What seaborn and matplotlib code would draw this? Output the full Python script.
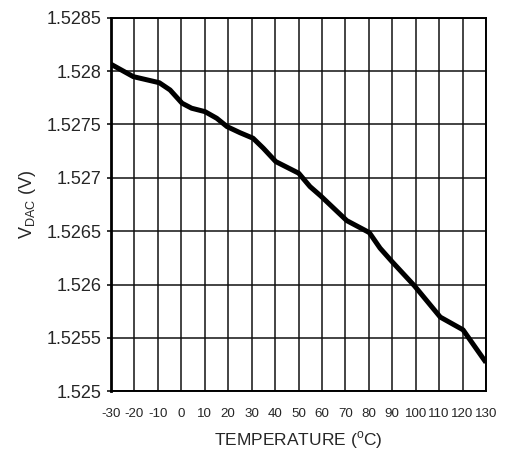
import numpy as np
import pandas as pd
import matplotlib
matplotlib.use("Agg")
import matplotlib.pyplot as plt
import seaborn as sns

# DAC output voltage versus temperature
temperature_c = [-30, -20.5, -9.4, -4.8, 0.3, 4.4, 10.1, 15.1, 19.5, 25, 30.6, 35,
                 40.3, 50.1, 54.9, 59.5, 70.6, 80.2, 84.8, 89.9, 99.4, 110.5,
                 120.2, 123.2, 130]
vdac_v = [1.528064, 1.527948, 1.527891, 1.527823, 1.527699, 1.527652, 1.52762,
          1.527558, 1.52748, 1.527423, 1.527371, 1.527277, 1.527152, 1.527043,
          1.526918, 1.52683, 1.526599, 1.526487, 1.526341, 1.526215, 1.52599,
          1.525695, 1.525576, 1.525482, 1.52527]

x_ticks = list(range(-30, 131, 10))
y_ticks = [1.525, 1.5255, 1.526, 1.5265, 1.527, 1.5275, 1.528, 1.5285]
y_tick_labels = ["1.525", "1.5255", "1.526", "1.5265", "1.527", "1.5275", "1.528", "1.5285"]

sns.set_style("white")
plt.rcParams["font.family"] = ["Liberation Sans", "DejaVu Sans"]
plt.rcParams["mathtext.fontset"] = "custom"
plt.rcParams["mathtext.rm"] = "Liberation Sans"

df = pd.DataFrame({"Temperature": temperature_c, "VDAC": vdac_v})

fig = plt.figure(figsize=(5.14, 4.59), dpi=100)
ax = fig.add_axes([0.216, 0.1475, 0.7295, 0.8139])

sns.lineplot(data=df, x="Temperature", y="VDAC", ax=ax, color="black",
             linewidth=3.6, solid_joinstyle="round", solid_capstyle="butt")

ax.set_xlim(-30, 130)
ax.set_ylim(1.525, 1.5285)
ax.set_xticks(x_ticks)
ax.set_xticklabels([str(t) for t in x_ticks], fontsize=9.6)
ax.set_yticks(y_ticks)
ax.set_yticklabels(y_tick_labels, fontsize=13)

ax.grid(True, color="#111111", linewidth=1.1)
ax.set_axisbelow(True)

ax.tick_params(axis="x", length=0, pad=12)
ax.tick_params(axis="y", length=3, width=1.1, color="black", pad=4, left=True)

for side, spine in ax.spines.items():
    spine.set_visible(True)
    spine.set_color("black")
    spine.set_linewidth(1.4)
ax.spines["left"].set_linewidth(2.0)

ax.set_xlabel(r"TEMPERATURE ($^{\mathrm{o}}$C)", fontsize=12.5, labelpad=7)
ax.set_ylabel(r"V$_{\mathrm{DAC}}$ (V)", fontsize=13, labelpad=6)

fig.savefig("out.png", dpi=100)
